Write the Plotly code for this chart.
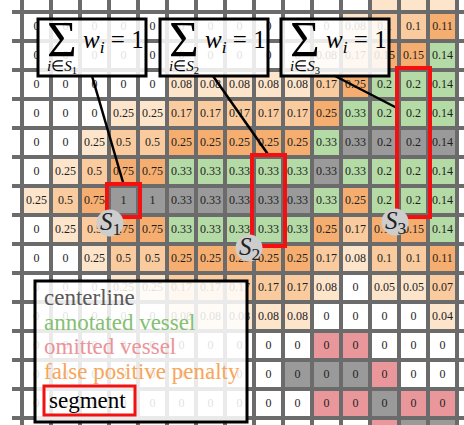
import plotly.graph_objects as go

W, H = 464, 425
CELL = 29          # pixel size of one grid cell
GX0, GY0 = 22, 12  # pixel position of the first vertical / horizontal grid line

# ---------------- data ----------------
# cell values, rows 0..13, columns 0..14
values = [
    [0, 0, 0, 0, 0, 0, 0, 0, 0, 0, 0, 0.08, 0.1, 0.1, 0.11],
    [0, 0, 0, 0, 0, 0, 0, 0, 0, 0, 0.08, 0.17, 0.15, 0.15, 0.14],
    [0, 0, 0, 0, 0, 0.08, 0.08, 0.08, 0.08, 0.08, 0.17, 0.25, 0.2, 0.2, 0.14],
    [0, 0, 0, 0.25, 0.25, 0.17, 0.17, 0.17, 0.17, 0.17, 0.25, 0.33, 0.2, 0.2, 0.14],
    [0, 0, 0.25, 0.5, 0.5, 0.25, 0.25, 0.25, 0.25, 0.25, 0.33, 0.33, 0.2, 0.2, 0.14],
    [0, 0.25, 0.5, 0.75, 0.75, 0.33, 0.33, 0.33, 0.33, 0.33, 0.33, 0.33, 0.2, 0.2, 0.14],
    [0.25, 0.5, 0.75, 1, 1, 0.33, 0.33, 0.33, 0.33, 0.33, 0.33, 0.25, 0.2, 0.2, 0.14],
    [0, 0.25, 0.5, 0.75, 0.75, 0.33, 0.33, 0.33, 0.33, 0.33, 0.25, 0.17, 0.15, 0.15, 0.14],
    [0, 0, 0.25, 0.5, 0.5, 0.25, 0.25, 0.25, 0.25, 0.25, 0.17, 0.08, 0.1, 0.1, 0.11],
    [0, 0, 0, 0.25, 0.25, 0.17, 0.17, 0.17, 0.17, 0.17, 0.08, 0, 0.05, 0.05, 0.07],
    [0, 0, 0, 0, 0, 0.08, 0.08, 0.08, 0.08, 0.08, 0, 0, 0, 0, 0.04],
    [0] * 15,
    [0] * 15,
    [0] * 15,
]

# cell kind, rows -1..14, columns -1..15
# W empty, L/M/S false positive penalty (light/medium/strong),
# G annotated vessel, C centerline, P omitted vessel
cell_kind = [
    "WWWWWWWWWWWWWLLLW",
    "WWWWWWWWWWWWLMMSW",
    "WWWWWWWWWWWLMSSGW",
    "WWWWWWLLLLLMSGGGW",
    "WWWWLLMMMMMSGGGGW",
    "WWWLMMSSSSSGCCCCW",
    "WWLMSSGGGGGCGGGGW",
    "WLMSCCCCCCCGSGGGW",
    "WWLMSSGGGGGSMSSGW",
    "WWWLMMSSSSSMLMMSW",
    "WWWWLLMMMMMLWLLMW",
    "WWWWWWLLLLLWWWWLW",
    "WWWWWWWWWWWPPWWWW",
    "WWWWWWWWWWCCCPWWW",
    "WWWWWWWWWWWPPCPPW",
    "WWWWWWWWWWWWWPCCW",
]
kind_order = ["W", "L", "M", "S", "G", "C", "P"]
kind_color = ["#ffffff", "#fde5cc", "#f9cb9e", "#f5ae70", "#b4daa6", "#9a9a9a", "#e9979b"]

legend_labels = ["centerline", "annotated vessel", "omitted vessel",
                 "false positive penalty", "segment"]
legend_colors = ["#595959", "#84c072", "#ec9499", "#f8a65a", "#000000"]

# segments: column and first/last row
seg_labels = ["1", "2", "3"]
seg_col = [3, 8, 13]
seg_row0 = [6, 5, 2]
seg_row1 = [6, 7, 6]


# ---------------- helpers ----------------
def dx(px):
    return (px - GX0) / CELL - 0.5


def dy(py):
    return (py - GY0) / CELL - 0.5


def fmt(v):
    return f"{v:g}"


fig = go.Figure()

# grid of cells
z = [[kind_order.index(ch) for ch in row] for row in cell_kind]
n = len(kind_order)
cs = []
for i, c in enumerate(kind_color):
    cs.append([i / n, c])
    cs.append([(i + 1) / n, c])
fig.add_trace(go.Heatmap(
    z=z, x=list(range(-1, 16)), y=list(range(-1, 15)),
    colorscale=cs, zmin=-0.5, zmax=n - 0.5, showscale=False,
    xgap=4, ygap=4, hoverinfo="skip"))

# cell value text
tx, ty, tt = [], [], []
for r, row in enumerate(values):
    for c, v in enumerate(row):
        tx.append(c)
        ty.append(r)
        tt.append(fmt(v))
fig.add_trace(go.Scatter(
    x=tx, y=ty, text=tt, mode="text", hoverinfo="skip",
    textfont=dict(family="Liberation Serif", size=12, color="#1e1e1e")))

shapes = []
annotations = []

# connecting lines formula box -> segment
line_start = [(92, 76), (213, 76), (335, 76)]
for i in range(3):
    c = seg_col[i]
    if i < 2:
        ex, ey = c, seg_row0[i] - 0.5 - 2 / CELL
    else:
        ex, ey = c - 0.5 - 2 / CELL, dy(108)
    shapes.append(dict(type="line", xref="x", yref="y",
                       x0=dx(line_start[i][0]), y0=dy(line_start[i][1]),
                       x1=ex, y1=ey, line=dict(color="black", width=2.5), layer="above"))

# red segment outlines
out = 2 / CELL
for i in range(3):
    c = seg_col[i]
    shapes.append(dict(type="rect", xref="x", yref="y",
                       x0=c - 0.5 - out, x1=c + 0.5 + out,
                       y0=seg_row0[i] - 0.5 - out, y1=seg_row1[i] + 0.5 + out,
                       line=dict(color="#f21010", width=4), layer="above"))

# segment label circles
circle_center = [(110, 223), (249, 248), (395, 222)]
rad = 13.5 / CELL
for i in range(3):
    cx, cy = dx(circle_center[i][0]), dy(circle_center[i][1])
    shapes.append(dict(type="circle", xref="x", yref="y",
                       x0=cx - rad, x1=cx + rad, y0=cy - rad, y1=cy + rad,
                       fillcolor="#cdcdcd", line=dict(width=0), layer="above"))
    annotations.append(dict(x=cx + 0.02, y=cy, xref="x", yref="y", showarrow=False,
                            text=f"<i>S</i><sub>{seg_labels[i]}</sub>",
                            font=dict(family="Liberation Serif", size=25, color="#222"),
                            xanchor="center", yanchor="middle"))

# formula boxes
box_left = [38, 160, 281]
box_w = 108
for i in range(3):
    L = box_left[i]
    shapes.append(dict(type="rect", xref="x", yref="y",
                       x0=dx(L), x1=dx(L + box_w), y0=dy(19), y1=dy(76),
                       fillcolor="rgba(255,255,255,0.86)",
                       line=dict(color="black", width=3), layer="above"))
    annotations.append(dict(x=dx(L + 24), y=dy(39), xref="x", yref="y", showarrow=False,
                            text="Σ", font=dict(family="Liberation Serif", size=51, color="black"),
                            xanchor="center", yanchor="middle"))
    annotations.append(dict(x=dx(L + 43), y=dy(41), xref="x", yref="y", showarrow=False,
                            text="<i>w</i><sub><i>i</i></sub> = 1",
                            font=dict(family="Liberation Serif", size=25, color="black"),
                            xanchor="left", yanchor="middle"))
    annotations.append(dict(x=dx(L + 24), y=dy(67), xref="x", yref="y", showarrow=False,
                            text=f"<i>i</i>∈<i>S</i><sub>{seg_labels[i]}</sub>",
                            font=dict(family="Liberation Serif", size=15, color="black"),
                            xanchor="center", yanchor="middle"))

# legend box
shapes.append(dict(type="rect", xref="x", yref="y",
                   x0=dx(35), x1=dx(247), y0=dy(281), y1=dy(422),
                   fillcolor="rgba(255,255,255,0.86)",
                   line=dict(color="black", width=3), layer="above"))
leg_y = [297, 322, 346, 371, 400]
for i, lab in enumerate(legend_labels):
    annotations.append(dict(x=dx(42 if i < 4 else 47), y=dy(leg_y[i]), xref="x", yref="y",
                            showarrow=False, text=lab,
                            font=dict(family="Liberation Serif", size=23, color=legend_colors[i]),
                            xanchor="left", yanchor="middle"))
shapes.append(dict(type="rect", xref="x", yref="y",
                   x0=dx(44), x1=dx(135), y0=dy(386), y1=dy(415),
                   line=dict(color="#f21010", width=3), layer="above"))

fig.update_layout(
    width=W, height=H,
    margin=dict(l=12, r=0, t=0, b=0),
    paper_bgcolor="white", plot_bgcolor="#6b6b6b",
    showlegend=False,
    xaxis=dict(range=[dx(12), dx(W)], visible=False, fixedrange=True),
    yaxis=dict(range=[dy(H), dy(0)], visible=False, fixedrange=True),
    shapes=shapes, annotations=annotations,
)

fig.write_html("out.html", config={"displayModeBar": False},
               post_script="document.body.style.margin='0';document.body.style.overflow='hidden';")
